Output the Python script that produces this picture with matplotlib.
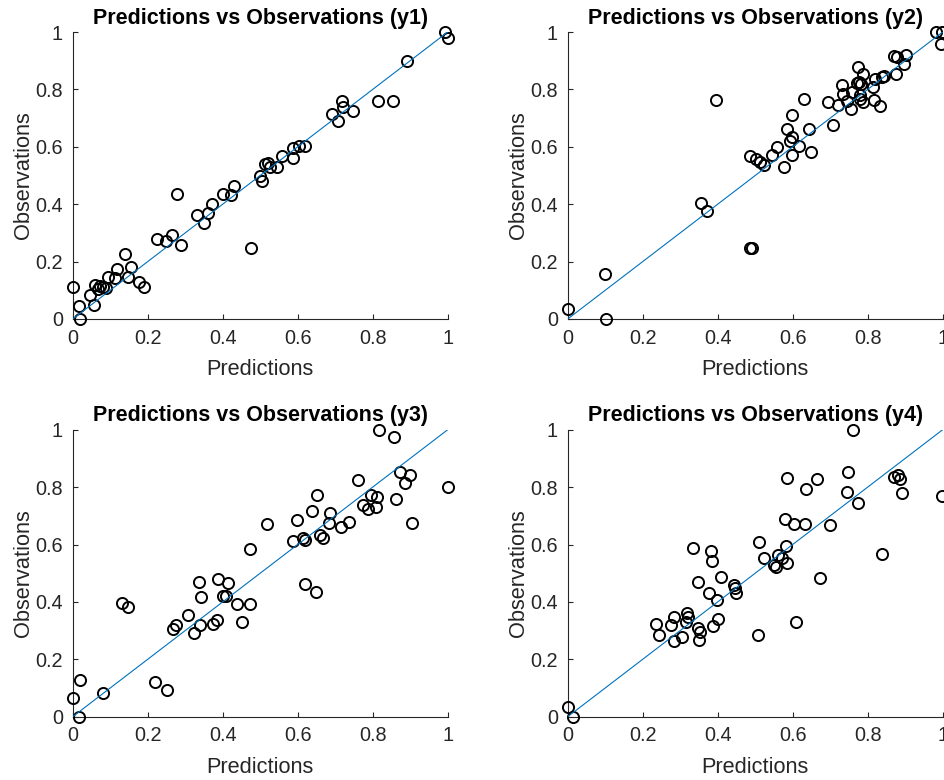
import matplotlib
matplotlib.use("Agg")
import matplotlib.pyplot as plt

plt.rcParams['font.family'] = ['Liberation Sans', 'DejaVu Sans']

# ---- data: (prediction, observation) for each output ----
pred_y1 = [0.000, 0.017, 0.020, 0.046, 0.058, 0.060, 0.067, 0.073, 0.080, 0.090, 0.095, 0.113, 0.117,
           0.139, 0.148, 0.155, 0.177, 0.191, 0.224, 0.249, 0.264, 0.277, 0.289, 0.331, 0.350, 0.362,
           0.371, 0.402, 0.422, 0.431, 0.475, 0.499, 0.504, 0.513, 0.522, 0.526, 0.544, 0.557, 0.587,
           0.588, 0.604, 0.619, 0.691, 0.708, 0.717, 0.720, 0.747, 0.815, 0.853, 0.891, 0.993, 1.000]
obs_y1 = [0.112, 0.045, 0.000, 0.083, 0.049, 0.120, 0.105, 0.115, 0.112, 0.107, 0.147, 0.143, 0.173,
          0.225, 0.147, 0.180, 0.130, 0.110, 0.278, 0.273, 0.293, 0.435, 0.258, 0.362, 0.333, 0.370,
          0.400, 0.435, 0.432, 0.465, 0.246, 0.498, 0.481, 0.540, 0.542, 0.531, 0.531, 0.568, 0.597,
          0.560, 0.603, 0.603, 0.714, 0.691, 0.761, 0.738, 0.726, 0.761, 0.761, 0.900, 0.999, 0.980]

pred_y2 = [0.000, 0.100, 0.101, 0.355, 0.372, 0.396, 0.486, 0.492, 0.486, 0.502, 0.513, 0.523, 0.544,
           0.557, 0.578, 0.586, 0.593, 0.597, 0.599, 0.597, 0.618, 0.631, 0.643, 0.648, 0.695, 0.707,
           0.722, 0.732, 0.735, 0.744, 0.755, 0.757, 0.775, 0.772, 0.778, 0.782, 0.787, 0.779, 0.780,
           0.788, 0.813, 0.819, 0.818, 0.833, 0.837, 0.843, 0.870, 0.877, 0.875, 0.897, 0.901, 0.981,
           0.997, 0.995]
obs_y2 = [0.034, 0.157, 0.000, 0.405, 0.377, 0.762, 0.246, 0.246, 0.568, 0.556, 0.548, 0.537, 0.571,
          0.598, 0.531, 0.661, 0.621, 0.633, 0.711, 0.571, 0.603, 0.766, 0.661, 0.583, 0.757, 0.676,
          0.746, 0.815, 0.784, 0.761, 0.731, 0.792, 0.879, 0.822, 0.826, 0.818, 0.854, 0.766, 0.780,
          0.757, 0.810, 0.835, 0.763, 0.742, 0.842, 0.847, 0.916, 0.912, 0.854, 0.889, 0.920, 0.999,
          0.999, 0.958]

pred_y3 = [0.000, 0.019, 0.017, 0.082, 0.132, 0.148, 0.219, 0.252, 0.268, 0.275, 0.307, 0.323, 0.338,
           0.342, 0.340, 0.375, 0.384, 0.388, 0.402, 0.410, 0.415, 0.437, 0.451, 0.473, 0.473, 0.519,
           0.588, 0.599, 0.615, 0.619, 0.619, 0.637, 0.648, 0.651, 0.659, 0.668, 0.684, 0.686, 0.715,
           0.738, 0.760, 0.775, 0.788, 0.795, 0.809, 0.812, 0.818, 0.857, 0.862, 0.873, 0.886, 0.899,
           0.906, 1.000]
obs_y3 = [0.064, 0.128, 0.000, 0.081, 0.397, 0.383, 0.122, 0.093, 0.306, 0.319, 0.354, 0.293, 0.470,
          0.418, 0.319, 0.323, 0.337, 0.480, 0.420, 0.420, 0.465, 0.393, 0.329, 0.393, 0.585, 0.671,
          0.613, 0.685, 0.622, 0.616, 0.462, 0.718, 0.436, 0.772, 0.633, 0.622, 0.676, 0.711, 0.660,
          0.679, 0.825, 0.738, 0.723, 0.772, 0.730, 0.764, 0.999, 0.973, 0.757, 0.854, 0.815, 0.842,
          0.674, 0.800]

pred_y4 = [0.000, 0.015, 0.235, 0.244, 0.275, 0.283, 0.284, 0.304, 0.317, 0.320, 0.315, 0.335, 0.348,
           0.348, 0.352, 0.350, 0.378, 0.383, 0.384, 0.388, 0.397, 0.402, 0.409, 0.443, 0.446, 0.449,
           0.508, 0.511, 0.523, 0.551, 0.555, 0.562, 0.571, 0.581, 0.586, 0.580, 0.584, 0.604, 0.610,
           0.633, 0.635, 0.666, 0.673, 0.699, 0.744, 0.748, 0.762, 0.775, 0.837, 0.871, 0.882, 0.885,
           0.891, 0.997]
obs_y4 = [0.033, 0.000, 0.322, 0.285, 0.319, 0.348, 0.265, 0.279, 0.362, 0.348, 0.331, 0.587, 0.470,
          0.308, 0.294, 0.267, 0.430, 0.578, 0.544, 0.316, 0.407, 0.339, 0.488, 0.459, 0.447, 0.430,
          0.285, 0.608, 0.554, 0.529, 0.523, 0.563, 0.552, 0.595, 0.537, 0.688, 0.831, 0.671, 0.329,
          0.671, 0.792, 0.827, 0.482, 0.668, 0.782, 0.852, 0.999, 0.744, 0.567, 0.836, 0.842, 0.827,
          0.780, 0.769]

titles = ["Predictions vs Observations (y1)", "Predictions vs Observations (y2)",
          "Predictions vs Observations (y3)", "Predictions vs Observations (y4)"]
ticks = [0, 0.2, 0.4, 0.6, 0.8, 1]
tick_labels = ["0", "0.2", "0.4", "0.6", "0.8", "1"]
ref_line = [0, 1]

series = [(pred_y1, obs_y1), (pred_y2, obs_y2), (pred_y3, obs_y3), (pred_y4, obs_y4)]

fig = plt.figure(figsize=(9.44, 7.80), dpi=100)
W, H = 944, 780
positions = [(72.7, 32, 375, 287), (567.7, 32, 375, 287),
             (72.7, 429.7, 375, 287), (567.7, 429.7, 375, 287)]
axc = (0.15, 0.15, 0.15)

for (px, py, pw, ph), (xp, yo), title in zip(positions, series, titles):
    ax = fig.add_axes([px / W, 1 - (py + ph) / H, pw / W, ph / H])
    ax.plot(xp, yo, linestyle='none', marker='o', markersize=8, markerfacecolor='none',
            markeredgecolor='black', markeredgewidth=1.4, clip_on=False, zorder=3)
    ax.plot(ref_line, ref_line, color='#0072BD', linewidth=0.8, zorder=4)
    ax.set_xlim(0, 1)
    ax.set_ylim(0, 1)
    ax.set_xticks(ticks)
    ax.set_xticklabels(tick_labels)
    ax.set_yticks(ticks)
    ax.set_yticklabels(tick_labels)
    for s in ['top', 'right']:
        ax.spines[s].set_visible(False)
    for s in ['left', 'bottom']:
        ax.spines[s].set_color(axc)
        ax.spines[s].set_linewidth(0.8)
    ax.tick_params(direction='in', length=3.5, width=0.8, color=axc, labelcolor=axc,
                   labelsize=14.3, pad=7)
    ax.set_xlabel("Predictions", fontsize=15.7, color=axc, labelpad=8)
    ax.set_ylabel("Observations", fontsize=15.7, color=axc, labelpad=1)
    ax.set_title(title, fontsize=15.5, fontweight='bold', pad=6)

fig.savefig("out.png", dpi=100)
